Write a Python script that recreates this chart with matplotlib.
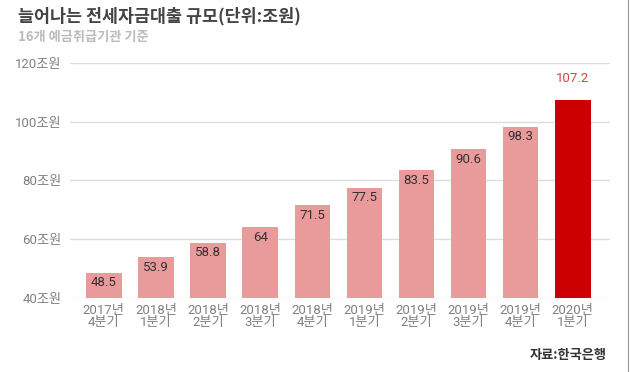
import matplotlib
matplotlib.use("Agg")
import matplotlib.pyplot as plt

# 데이터
quarters = ["2017년\n4분기", "2018년\n1분기", "2018년\n2분기", "2018년\n3분기", "2018년\n4분기",
            "2019년\n1분기", "2019년\n2분기", "2019년\n3분기", "2019년\n4분기", "2020년\n1분기"]
values = [48.5, 53.9, 58.8, 64, 71.5, 77.5, 83.5, 90.6, 98.3, 107.2]
y_ticks = [40, 60, 80, 100, 120]
y_labels = ["40조원", "60조원", "80조원", "100조원", "120조원"]

plt.rcParams["font.family"] = ["Roboto", "Noto Sans CJK KR", "DejaVu Sans"]

fig = plt.figure(figsize=(6.3, 3.72), dpi=100)
ax = fig.add_axes([0.111, 0.199, 0.857, 0.632])

colors = ["#E99A9B"] * (len(values) - 1) + ["#CC0000"]
x = list(range(len(values)))
ax.bar(x, [v - 40 for v in values], bottom=40, width=0.68, color=colors, zorder=2)

for i, v in enumerate(values):
    label = f"{v:g}"
    if i == len(values) - 1:
        ax.text(i, v + 7.5, label, ha="center", va="center", fontsize=9.5, color="#D24545")
    else:
        ax.text(i, v - 3.4, label, ha="center", va="center", fontsize=9.5, color="#333333")

ax.set_ylim(40, 120)
ax.set_xlim(-0.65, 9.71)
ax.set_yticks(y_ticks)
ax.set_yticklabels(y_labels, fontsize=9.5, color="#808080")
ax.set_xticks(x)
ax.set_xticklabels(quarters, fontsize=9.5, color="#808080", linespacing=0.9)
ax.tick_params(axis="both", length=0, pad=6)
ax.tick_params(axis="x", pad=4)
ax.grid(axis="y", color="#dddddd", linewidth=1, zorder=0)
for s in ax.spines.values():
    s.set_visible(False)

fig.text(18 / 630, 1 - 16 / 372, "늘어나는 전세자금대출 규모(단위:조원)", fontsize=12.5,
         fontweight="bold", color="#444444", va="center", family="Noto Sans CJK KR")
fig.text(18 / 630, 1 - 37 / 372, "16개 예금취급기관 기준", fontsize=9.5,
         fontweight="bold", color="#bbbbbb", va="center", family="Noto Sans CJK KR")
fig.text(607 / 630, 1 - 355 / 372, "자료:한국은행", fontsize=9.5, color="#333333",
         fontweight="bold", ha="right", va="center", family="Noto Sans CJK KR")

# 오른쪽 테두리
fig.add_artist(plt.Line2D([628 / 630, 628 / 630], [0, 1], color="#999999", linewidth=0.8))

fig.savefig("out.png", dpi=100)
